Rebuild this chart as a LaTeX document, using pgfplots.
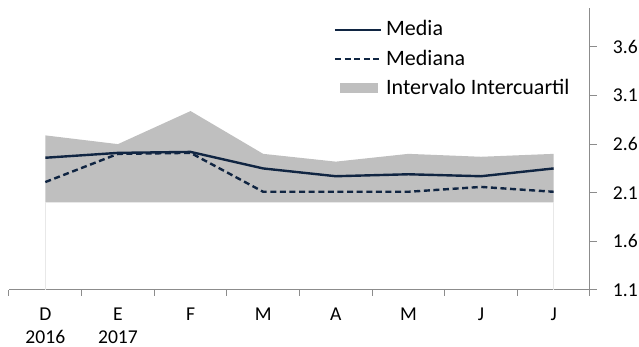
\documentclass[border=0pt]{standalone}
\usepackage{pgfplots}
\pgfplotsset{compat=1.18}
\usepackage{fontspec}
\setmainfont{Carlito}
\definecolor{navy}{HTML}{102542}
\definecolor{iqr}{HTML}{BFBFBF}
\definecolor{axgray}{HTML}{8C8C8C}
\pgfplotsset{
    lineleg/.style={legend image code/.code={\draw[##1] (0pt,0pt) -- (23pt,0pt);}},
    arealeg/.style={legend image code/.code={\fill[iqr] (2.5pt,-2.2pt) rectangle (21pt,2.2pt);}},
}
\begin{document}
\fontsize{9.8}{11.5}\selectfont
\begin{tikzpicture}
\useasboundingbox (-4.5pt,-28.5pt) rectangle (315pt,145pt);
\begin{axis}[
    scale only axis,
    width=290.5pt, height=141pt,
    xmin=-0.5, xmax=7.5,
    ymin=1.1, ymax=4.0,
    axis x line*=bottom,
    axis y line*=right,
    axis line style={axgray, line width=0.5pt},
    xtick={0,...,7},
    xticklabels={D\\2016, E\\2017, F, M, A, M, J, J},
    xticklabel style={align=center, yshift=-2pt},
    major x tick style={draw=none},
    minor xtick={-0.5,0.5,...,7.5},
    minor x tick style={axgray, line width=0.5pt},
    minor tick length=3pt,
    ytick={1.1,1.6,...,3.6},
    major tick length=3.5pt,
    tick align=outside,
    y tick style={axgray, line width=0.5pt},
    yticklabel style={xshift=4.5pt, /pgf/number format/fixed, /pgf/number format/fixed zerofill, /pgf/number format/precision=1},
    /pgf/number format/assume math mode=true,
    tick label style={font=\fontsize{9.8}{11.5}\selectfont},
    legend style={draw=none, fill=none, at={(0.548,0.985)}, anchor=north west,
        font=\fontsize{11}{13}\selectfont, row sep=1.5pt, cells={anchor=west}},
    legend cell align=left,
]
\addplot[fill=iqr, draw=none, forget plot]
  coordinates {(0,2.69) (1,2.60) (2,2.94) (3,2.50) (4,2.42) (5,2.50) (6,2.47) (7,2.50)
               (7,2.0) (6,2.0) (5,2.0) (4,2.0) (3,2.0) (2,2.0) (1,2.0) (0,2.0)} -- cycle;
\addplot[draw=gray!18, line width=0.5pt, forget plot] coordinates {(0,1.1) (0,2.0)};
\addplot[draw=gray!18, line width=0.5pt, forget plot] coordinates {(7,1.1) (7,2.0)};
\addplot[navy, line width=1.2pt, lineleg]
  coordinates {(0,2.46) (1,2.51) (2,2.52) (3,2.35) (4,2.27) (5,2.29) (6,2.27) (7,2.35)};
\addlegendentry{Media}
\addplot[navy, line width=1.2pt, dash pattern=on 3pt off 1.8pt, lineleg]
  coordinates {(0,2.21) (1,2.50) (2,2.51) (3,2.11) (4,2.11) (5,2.11) (6,2.16) (7,2.11)};
\addlegendentry{Mediana}
\addlegendimage{arealeg}
\addlegendentry{Intervalo Intercuartil}
\end{axis}
\end{tikzpicture}
\end{document}
